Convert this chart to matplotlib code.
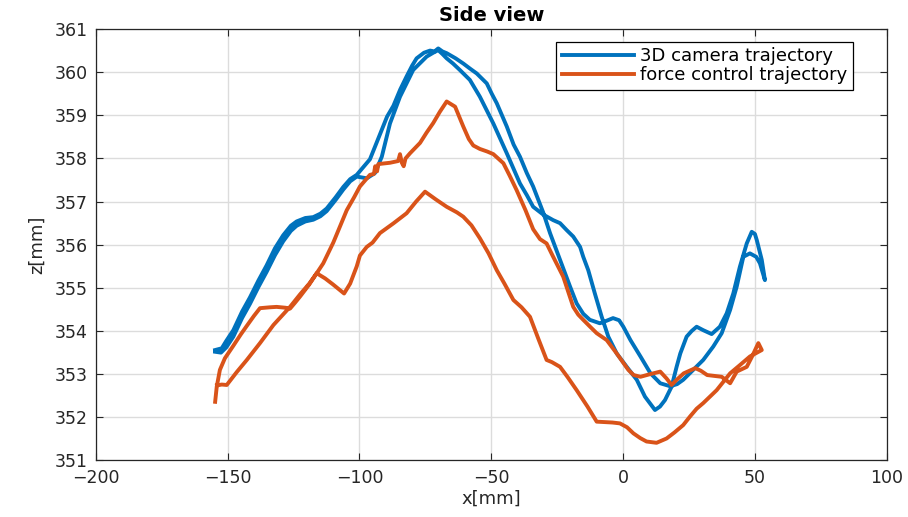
import numpy as np
import matplotlib
matplotlib.use("Agg")
from matplotlib import pyplot as plt

# 3D camera trajectory (goes out along one strand, comes back along the other)
cam_x = [-154.7, -152.2, -150.5, -147.8, -144.5, -141.5, -138.3, -135.2, -132.0, -128.9,
         -126.0, -123.8, -120.5, -117.5, -114.8, -112.4, -109.0, -106.1, -103.5, -101.0,
         -98.5, -96.0, -92.2, -89.5, -87.1, -84.5, -82.1, -80.0, -78.3, -75.5,
         -73.2, -71.5, -70.1, -68.5, -66.9, -63.5, -60.6, -58.0, -55.5, -53.5,
         -51.7, -49.8, -47.9, -44.1, -41.5, -39.1, -36.5, -34.1, -32.2, -30.3,
         -27.7, -23.9, -20.1, -17.6, -15.1, -12.6, -8.8, -6.2, -3.8, -1.5,
         0.1, 2.8, 6.6, 10.4, 14.1, 17.9, 20.5, 22.8, 26.6, 30.4,
         34.2, 37.4, 40.6, 43.1, 45.6, 48.1, 50.5, 51.9, 53.8,
         52.6, 50.7, 50.0, 48.8, 46.9, 44.3, 41.8, 39.3, 36.7, 33.6,
         30.4, 27.9, 26.0, 24.1, 21.7, 20.3, 18.4, 15.9, 14.0, 12.1,
         8.3, 5.2, 1.4, -2.4, -5.6, -8.1, -10.7, -13.2, -15.1, -16.3,
         -18.9, -21.4, -23.9, -26.5, -30.3, -34.1, -36.5, -39.1, -44.1, -49.2,
         -54.3, -58.1, -61.9, -64.5, -66.9, -68.5, -70.1, -72.0, -74.5, -79.6,
         -84.6, -88.4, -89.0, -91.5, -94.1, -97.2, -101.0, -103.5, -106.1, -109.0,
         -112.4, -114.8, -117.5, -120.5, -123.8, -126.0, -128.9, -132.0, -135.2, -138.3,
         -141.5, -144.5, -147.8, -150.5, -152.5, -154.7]
cam_z = [353.56, 353.60, 353.77, 354.02, 354.45, 354.78, 355.17, 355.52, 355.92, 356.22,
         356.44, 356.54, 356.62, 356.64, 356.72, 356.84, 357.10, 357.34, 357.52, 357.62,
         357.80, 357.98, 358.56, 358.97, 359.22, 359.60, 359.90, 360.15, 360.32, 360.45,
         360.50, 360.48, 360.55, 360.48, 360.44, 360.32, 360.20, 360.08, 359.97, 359.85,
         359.74, 359.50, 359.28, 358.74, 358.32, 358.04, 357.66, 357.35, 357.05, 356.75,
         356.27, 355.65, 355.03, 354.64, 354.40, 354.26, 354.18, 354.24, 354.30, 354.25,
         354.10, 353.79, 353.41, 353.02, 352.79, 352.72, 352.77, 352.87, 353.10, 353.33,
         353.64, 353.95, 354.49, 355.03, 355.72, 355.80, 355.72, 355.57, 355.18,
         355.65, 356.11, 356.25, 356.30, 356.03, 355.49, 354.87, 354.41, 354.10, 353.93,
         354.02, 354.10, 354.00, 353.87, 353.48, 353.17, 352.71, 352.40, 352.25, 352.17,
         352.48, 352.87, 353.17, 353.48, 353.87, 354.33, 354.87, 355.41, 355.72, 355.95,
         356.19, 356.34, 356.50, 356.57, 356.70, 356.88, 357.15, 357.42, 358.12, 358.81,
         359.43, 359.82, 360.05, 360.20, 360.32, 360.42, 360.51, 360.45, 360.36, 360.05,
         359.43, 358.81, 358.66, 358.04, 357.66, 357.54, 357.58, 357.47, 357.28, 357.04,
         356.78, 356.66, 356.58, 356.54, 356.44, 356.32, 356.08, 355.76, 355.37, 355.02,
         354.63, 354.30, 353.87, 353.62, 353.50, 353.52]

# force control trajectory
force_x = [-154.7, -154.1, -152.9, -151.0, -147.8, -145.0, -142.7, -140.0, -137.7, -134.0,
           -131.4, -128.0, -126.3, -124.5, -122.5, -119.0, -116.2, -113.7, -109.9, -107.5,
           -104.8, -102.0, -99.8, -96.0, -94.5, -94.0, -93.3, -92.8, -88.4, -85.3,
           -84.6, -83.9, -83.2, -82.5, -80.8, -77.0, -74.5, -72.0, -69.5, -66.9,
           -63.7, -60.6, -58.5, -56.8, -54.3, -51.5, -49.2, -45.4, -43.0, -40.4,
           -37.0, -34.1, -31.5, -29.0, -26.5, -22.7, -18.9, -17.0, -15.1, -12.5,
           -10.0, -6.2, -2.4, 2.0, 4.0, 6.6, 10.2, 14.1, 16.5, 18.4,
           20.5, 23.0, 27.4, 29.5, 31.9, 37.4, 40.6, 43.1, 46.9, 49.0,
           51.3, 52.6,
           48.1, 44.3, 40.6, 35.5, 30.4, 27.9, 25.4, 22.8, 19.5, 16.5,
           12.7, 8.9, 6.5, 3.9, 1.5, -1.2, -4.0, -10.0, -13.5, -17.6,
           -21.0, -23.9, -27.0, -29.0, -32.0, -35.3, -38.5, -41.6, -45.0, -47.9,
           -51.0, -54.3, -57.5, -60.6, -63.0, -66.9, -71.0, -75.1, -78.5, -82.1,
           -87.0, -92.2, -95.0, -97.2, -99.8, -101.0, -103.5, -105.8, -110.0, -113.0,
           -116.2, -119.0, -122.5, -126.3, -132.6, -137.7, -142.7, -146.5, -150.3, -152.2,
           -154.0]
force_z = [352.36, 352.71, 353.10, 353.37, 353.66, 353.92, 354.12, 354.35, 354.53, 354.55,
           354.56, 354.54, 354.52, 354.65, 354.80, 355.08, 355.34, 355.57, 356.05, 356.40,
           356.80, 357.10, 357.35, 357.62, 357.64, 357.82, 357.70, 357.87, 357.90, 357.94,
           358.10, 357.90, 357.82, 358.00, 358.12, 358.36, 358.60, 358.82, 359.08, 359.32,
           359.20, 358.74, 358.45, 358.30, 358.22, 358.16, 358.10, 357.89, 357.60, 357.27,
           356.80, 356.36, 356.13, 356.03, 355.72, 355.26, 354.56, 354.38, 354.26, 354.10,
           353.95, 353.79, 353.48, 353.10, 352.98, 352.94, 353.00, 353.06, 352.90, 352.75,
           352.88, 353.02, 353.14, 353.08, 352.98, 352.94, 352.79, 353.06, 353.17, 353.42,
           353.72, 353.56,
           353.41, 353.21, 353.02, 352.63, 352.33, 352.20, 352.02, 351.82, 351.65, 351.51,
           351.41, 351.44, 351.52, 351.63, 351.77, 351.86, 351.88, 351.90, 352.25, 352.63,
           352.93, 353.17, 353.28, 353.33, 353.80, 354.33, 354.55, 354.72, 355.10, 355.41,
           355.80, 356.15, 356.45, 356.65, 356.75, 356.88, 357.05, 357.23, 357.00, 356.73,
           356.50, 356.27, 356.05, 355.95, 355.75, 355.50, 355.10, 354.87, 355.08, 355.22,
           355.34, 355.10, 354.85, 354.56, 354.14, 353.72, 353.33, 353.05, 352.75, 352.76,
           352.74]

x_ticks = [-200, -150, -100, -50, 0, 50, 100]
z_ticks = [351, 352, 353, 354, 355, 356, 357, 358, 359, 360, 361]

BLUE = '#0072BD'
ORANGE = '#D95319'
DARK = '#262626'


def main():
    fig = plt.figure(figsize=(9.08, 5.17), dpi=100)
    ax = fig.add_axes([0.1054, 0.1093, 0.8712, 0.8346])

    ax.plot(cam_x, cam_z, color=BLUE, lw=2.8, label='3D camera trajectory',
            solid_joinstyle='round')
    ax.plot(force_x, force_z, color=ORANGE, lw=2.8, label='force control trajectory',
            solid_joinstyle='round')

    ax.set_xlim(-200, 100)
    ax.set_ylim(351, 361)
    ax.set_xticks(x_ticks)
    ax.set_yticks(z_ticks)
    ax.grid(True, color='#dcdcdc', lw=1.0)
    ax.set_axisbelow(True)
    ax.tick_params(direction='in', length=5, width=0.8, top=True, right=True,
                   colors=DARK, labelsize=12.5, pad=6)
    for s in ax.spines.values():
        s.set_color(DARK)
        s.set_linewidth(0.9)

    ax.set_xlabel('x[mm]', fontsize=13, color=DARK, labelpad=2)
    ax.set_ylabel('z[mm]', fontsize=13, color=DARK, labelpad=6)
    ax.set_title('Side view', fontsize=14, fontweight='bold', pad=6)

    leg = ax.legend(loc='upper left', bbox_to_anchor=(0.582, 0.970), borderaxespad=0,
                    fontsize=13, handlelength=4.0, handletextpad=0.35,
                    labelspacing=0.05, borderpad=0.3, fancybox=False,
                    framealpha=1, edgecolor='black')
    leg.get_frame().set_linewidth(0.9)

    fig.savefig('out.png', dpi=100)


if __name__ == "__main__":
    main()
